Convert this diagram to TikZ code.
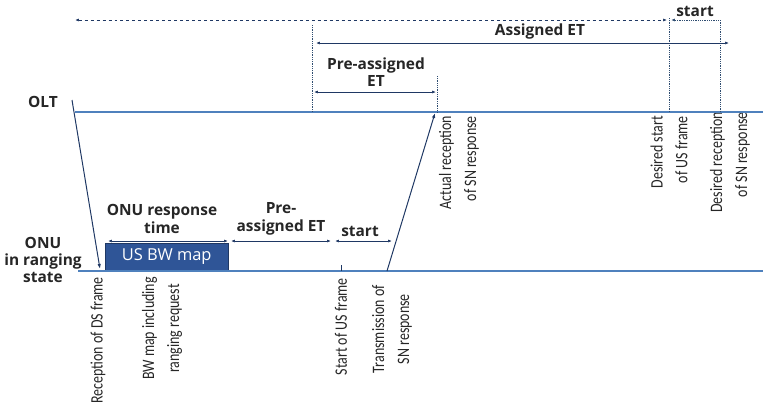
\documentclass[tikz,border=0pt]{standalone}
\usepackage{fontspec}
\setmainfont{Open Sans}
\newfontfamily\smalfont[FakeStretch=0.8]{Carlito}
\usepackage{xcolor}
\usetikzlibrary{arrows.meta}
\definecolor{linjeblaa}{RGB}{79,129,189}
\definecolor{moerkblaa}{RGB}{31,56,100}
\definecolor{boksblaa}{RGB}{47,85,151}

\begin{document}
\begin{tikzpicture}[x=1bp, y=-1bp,
	tidslinje/.style={draw=linjeblaa, line width=1.2pt},
	signal/.style={draw=moerkblaa, line width=1pt, -{Latex[length=5pt,width=3.5pt]}},
	pil/.style={draw=moerkblaa, line width=0.7pt, {Latex[length=4pt,width=3pt]}-{Latex[length=4pt,width=3pt]}},
	prikk/.style={draw=linjeblaa!60!black, densely dotted, line width=0.8pt},
	tekst/.style={font=\bfseries\fontsize{15.5}{17.5}\selectfont, align=center, text=black!85},
	merke/.style={font=\smalfont\fontsize{17.5}{25}\selectfont, rotate=90, anchor=east, inner sep=0pt, text=black!85}]
	\useasboundingbox (0,0) rectangle (763,405);

	%Punktene går her
	\coordinate (o1) at (75,112);
	\coordinate (o2) at (763,112);
	\coordinate (u1) at (78,271);
	\coordinate (u2) at (763,271);
	\coordinate (ned1) at (72,100);
	\coordinate (ned2) at (100,269);
	\coordinate (opp1) at (387,271);
	\coordinate (opp2) at (435,113);
	\coordinate (merke1) at (341,265);
	\coordinate (merke2) at (341,271);

	%Nodene går her
	\node[tekst] (olt) at (43,102) {OLT};
	\node[tekst] (onu) at (43,260) {ONU\\in ranging\\state};
	\node[draw=moerkblaa, fill=boksblaa, minimum width=123bp, minimum height=28bp, anchor=south west,
		font=\fontsize{16.5}{18}\selectfont, text=white] (bwmap) at (105,271) {US BW map};
	\node[tekst] (responstekst) at (162,219) {ONU response\\time};
	\node[tekst] (forettekst) at (281,219) {Pre-\\assigned ET};
	\node[tekst] (starttekst) at (360,231) {start};
	\node[tekst] (foret) at (376,72) {Pre-assigned\\ET};
	\node[tekst] (tildelt) at (540,31) {Assigned ET};
	\node[tekst] (toppstart) at (695,11) {start};

	\node[merke, align=right] (faktisk) at (459,116) {Actual reception\\of SN response};
	\node[merke, align=right] (onsketstart) at (669,116) {Desired start\\of US frame};
	\node[merke, align=right] (onsketmott) at (730,112) {Desired reception\\of SN response};
	\node[merke] (mottak) at (98,277) {Reception of DS frame};
	\node[merke, align=center] (bwinkl) at (162,277) {BW map including\\ranging request};
	\node[merke] (usstart) at (341,278) {Start of US frame};
	\node[merke, align=center] (sending) at (392,285) {Transmission of\\SN response};

	%Linjene defineres her
	\draw[tidslinje] (o1) -- (o2);
	\draw[tidslinje] (u1) -- (u2);
	\draw[signal] (ned1) -- (ned2);
	\draw[signal] (opp1) -- (opp2);
	\draw[draw=moerkblaa, line width=0.7pt] (merke1) -- (merke2);

	%Prikkete linjer
	\draw[prikk] (312,25) coordinate (v1) -- (312,112) coordinate (v1b);
	\draw[prikk] (437,76) coordinate (v2) -- (437,112);
	\draw[prikk] (669,18) coordinate (v3) -- (669,112);
	\draw[prikk, -{Latex[length=4pt,width=3pt]}] (720,112) coordinate (v4) -- (720,20) -- (671,20) coordinate (s1);
	\draw[pil, dashed] (75,20) coordinate (t1) -- (667,20) coordinate (t2);

	%Pilene
	\draw[pil] (316,43) coordinate (a1) -- (729,43) coordinate (a2);
	\draw[pil] (314,92) coordinate (p1) -- (436,92) coordinate (p2);
	\draw[pil] (108,241) coordinate (r1) -- (228,241) coordinate (r2);
	\draw[pil] (231,241) coordinate (r3) -- (331,241) coordinate (r4);
	\draw[pil] (335,241) coordinate (r5) -- (392,241) coordinate (r6);

\end{tikzpicture}
\end{document}
